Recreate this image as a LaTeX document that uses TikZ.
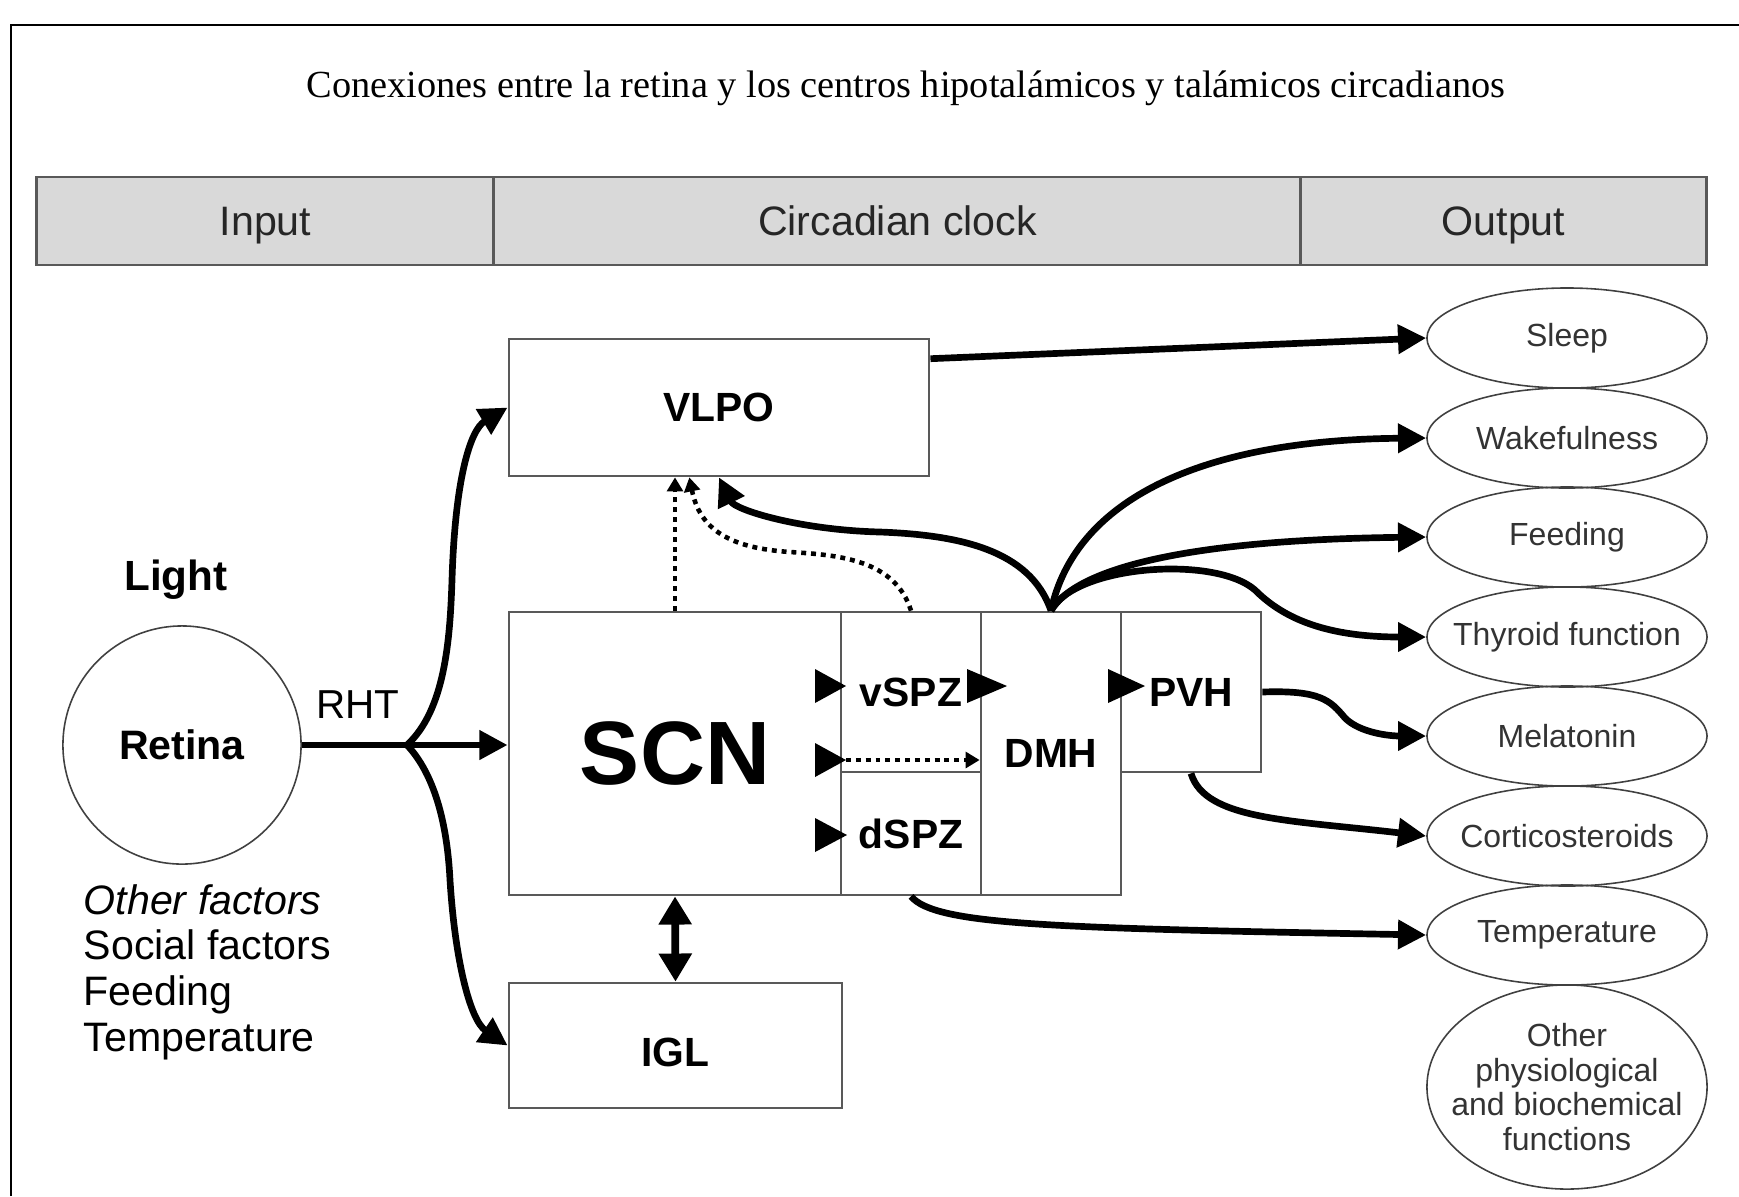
\documentclass[tikz,border=0pt]{standalone}
\usepackage{fontspec}
\setmainfont{Liberation Sans}
\newfontfamily\titlefont{Liberation Serif}
\usetikzlibrary{arrows.meta, shapes.geometric}

\tikzset{
    box/.style={draw=black!65, line width=0.75pt, inner sep=0pt, font=\bfseries\fontsize{11.6}{14}\selectfont},
    headcell/.style={draw=black!65, line width=0.8pt, fill=black!15, minimum height=0.88cm, inner sep=0pt, text height=8.4pt, text depth=0pt, font=\fontsize{11.7}{14}\selectfont, text=black!85},
    outcome/.style={ellipse, draw=black!75, line width=0.45pt, minimum width=2.8cm, minimum height=1cm, inner sep=0pt},
    outtext/.style={font=\fontsize{9.1}{9.8}\selectfont, text=black!80, align=center, inner sep=0pt},
    arr/.style={line width=1.9pt, -{Triangle[length=8pt,width=8pt]}},
    dotarr/.style={line width=1.3pt, dash pattern=on 1.4pt off 1.4pt, -{Triangle[length=4pt,width=4.5pt]}},
}

\begin{document}
\begin{tikzpicture}[x=0.01cm, y=-0.01cm]
    \useasboundingbox (0,0) rectangle (1739,1196);
    % frame and title
    \draw[line width=0.6pt] (11,1196) -- (11,25) -- (1739,25);
    \node[font=\titlefont\fontsize{10.9}{13}\selectfont] (title) at (906,88) {Conexiones entre la retina y los centros hipotalámicos y talámicos circadianos};

    % header row
    \node[headcell, minimum width=4.57cm] (input) at (265.5,221) {Input};
    \node[headcell, minimum width=8.07cm] (clock) at (897.5,221) {Circadian clock};
    \node[headcell, minimum width=4.05cm] (output) at (1503.5,221) {Output};

    % input side
    \node[font=\bfseries\fontsize{12}{14}\selectfont] (light) at (176,580) {Light};
    \node[circle, draw=black!75, line width=0.45pt, minimum size=2.38cm, font=\bfseries\fontsize{11.7}{14}\selectfont] (retina) at (182,745) {Retina};
    \node[font=\fontsize{11.5}{14}\selectfont] (rhtlabel) at (358,705) {RHT};
    \node[anchor=west, align=left, inner sep=0pt, font=\fontsize{11.7}{13}\selectfont] (factors) at (83,972) {\textit{Other factors}\\ Social factors\\ Feeding\\ Temperature};

    % clock boxes
    \node[box, minimum width=4.2cm, minimum height=1.37cm] (vlpo) at (719,407.5) {VLPO};
    \node[box, minimum width=3.32cm, minimum height=2.83cm, font=\bfseries\fontsize{25.6}{30}\selectfont] (scn) at (675,753.5) {SCN};
    \node[box, minimum width=1.4cm, minimum height=1.6cm] (vspz) at (911,692) {vSPZ};
    \node[box, minimum width=1.4cm, minimum height=1.23cm] (dspz) at (911,833.5) {dSPZ};
    \node[box, minimum width=1.4cm, minimum height=2.83cm] (dmh) at (1051,753.5) {DMH};
    \node[box, minimum width=1.4cm, minimum height=1.6cm] (pvh) at (1191,692) {PVH};
    \node[box, minimum width=3.33cm, minimum height=1.25cm, text height=12pt] (igl) at (675.5,1045.5) {IGL};

    % outputs
    \foreach \name/\txt/\y in {sleep/Sleep/338, wake/Wakefulness/438, feed/Feeding/537, thyroid/Thyroid function/637, melatonin/Melatonin/736, cortico/Corticosteroids/836, temp/Temperature/935}
        \node[outcome, label={[outtext]center:\txt}] (\name) at (1567,\y) {};
    \node[outcome, minimum height=2.04cm, label={[outtext]center:Other\\ physiological\\ and biochemical\\ functions}] (other) at (1567,1087) {};

    % retina to clock
    \coordinate (fork) at (407,745);
    \draw[arr] (retina.east) -- (retina.east -| scn.west);
    \draw[arr] (fork) .. controls (445,710) and (450,640) .. (452,580) .. controls (455,480) and (470,430) .. (vlpo.west);
    \draw[arr] (fork) .. controls (440,780) and (448,840) .. (450,880) .. controls (455,960) and (470,1020) .. (igl.west);
    \draw[line width=2.2pt, {Triangle[length=8pt,width=9pt]}-{Triangle[length=8pt,width=9pt]}] (scn.south) -- (igl.north);

    % clock to outputs
    \draw[arr] (vlpo.13.5) -- (sleep.west);
    \draw[arr] (dmh.north) .. controls (1030,550) and (960,535) .. (880,532) .. controls (800,530) and (735,510) .. (vlpo.south);
    \draw[arr] (dmh.north) .. controls (1075,500) and (1200,440) .. (wake.west);
    \draw[arr] (dmh.north) .. controls (1075,570) and (1180,540) .. (feed.west);
    \draw[arr] (dmh.north) .. controls (1075,565) and (1215,555) .. (1255,590) .. controls (1280,615) and (1320,637) .. (thyroid.west);
    \draw[arr] (pvh.east) .. controls (1320,690) and (1330,700) .. (1345,718) .. controls (1360,733) and (1390,736) .. (melatonin.west);
    \draw[arr] (pvh.south) .. controls (1205,820) and (1290,820) .. (cortico.west);
    \draw[arr] (dspz.south) .. controls (935,925) and (1050,928) .. (temp.west);

    % dotted links
    \draw[dotarr] (scn.north) -- (scn.north |- vlpo.south);
    \draw[dotarr] (vspz.north) .. controls (895,560) and (840,555) .. (790,552) .. controls (730,548) and (700,530) .. (vlpo.247);
    \coordinate (midtip) at (846,760);
    \draw[dotarr] (midtip) -- (midtip -| dmh.west);

    % heads on the grid
    \foreach \x/\y/\len in {815/686/31, 815/760/31, 815/835/32, 967/686/40, 1108/686/37}
        \fill (\x,{\y-17}) -- ({\x+\len},\y) -- (\x,{\y+17}) -- cycle;
\end{tikzpicture}
\end{document}
